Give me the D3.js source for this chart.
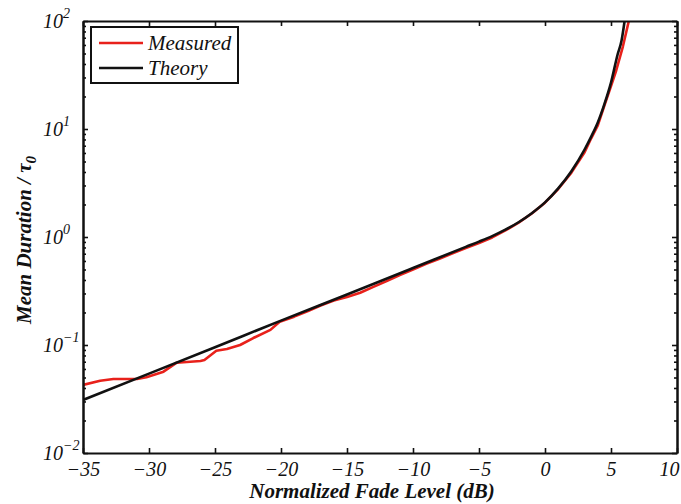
<!DOCTYPE html>
<html>
<head>
  <meta charset="utf-8">
  <script src="https://d3js.org/d3.v7.min.js"></script>
  <style>
    body { margin: 0; background: #fff; }
    text { font-family: "Liberation Serif", "Times New Roman", serif; }
  </style>
</head>
<body>
  <div id="chart"></div>
  <script>
    // values
    var theoryX = [-35, -30, -25, -20, -15, -10, -6, -5, -4, -3, -2, -1, 0, 1, 2, 3, 3.5, 4, 4.5, 5, 5.5, 5.8, 6.03];
    var theoryY = [0.031, 0.0543, 0.0954, 0.168, 0.294, 0.516, 0.81, 0.906, 1.02, 1.17, 1.37, 1.66, 2.09, 2.82, 4.07, 6.46, 8.5, 11.5, 17, 26.9, 49, 66, 100];

    var measuredX = [-35, -33.7, -32.7, -30.9, -30.2, -28.9, -27.9, -26.1, -25.8, -24.9, -24.1, -23.1, -22.1, -20.8, -20.1,
                     -19, -18, -17, -16, -15, -14, -13, -12, -11, -10, -9, -8, -7, -6, -5, -4, -3, -2, -1,
                     0, 1, 2, 3, 3.5, 4, 4.5, 5, 5.4, 5.9, 6.35];
    var measuredY = [0.0427, 0.0467, 0.0485, 0.0485, 0.0502, 0.0566, 0.0686, 0.0711, 0.0726, 0.0886, 0.0918, 0.100, 0.116, 0.138, 0.164,
                     0.183, 0.205, 0.232, 0.258, 0.278, 0.305, 0.345, 0.39, 0.445, 0.50, 0.565, 0.63, 0.705, 0.79, 0.88, 0.99, 1.15, 1.36, 1.65,
                     2.08, 2.78, 3.95, 6.1, 8.2, 10.8, 16.5, 25, 35, 58, 100];

    var xTicks = [-35, -30, -25, -20, -15, -10, -5, 0, 5, 10];
    var yTicks = [0.01, 0.1, 1, 10, 100];
    var yExponents = ["\u22122", "\u22121", "0", "1", "2"];
    var seriesNames = ["Measured", "Theory"];
    var seriesColors = ["#e8211b", "#111111"];

    var W = 681, H = 504;
    var plotL = 83, plotR = 677, plotT = 21, plotB = 453;

    var svg = d3.select("#chart").append("svg")
      .attr("width", W).attr("height", H);

    var x = d3.scaleLinear().domain([-35, 10]).range([plotL, plotR]);
    var y = d3.scaleLog().domain([0.01, 100]).range([plotB, plotT]);

    var minor = [];
    [0.01, 0.1, 1, 10].forEach(function(d) {
      for (var k = 2; k <= 9; k++) minor.push(d * k);
    });

    // curves, clipped to the plot box
    svg.append("clipPath").attr("id", "clip")
      .append("rect").attr("x", plotL).attr("y", plotT)
      .attr("width", plotR - plotL).attr("height", plotB - plotT);

    var measured = measuredX.map(function(d, i) { return [d, measuredY[i]]; });
    var theory = theoryX.map(function(d, i) { return [d, theoryY[i]]; });

    var line = d3.line()
      .x(function(d) { return x(d[0]); })
      .y(function(d) { return y(d[1]); });

    svg.append("path")
      .attr("clip-path", "url(#clip)")
      .attr("d", line(measured))
      .attr("fill", "none")
      .attr("stroke", seriesColors[0])
      .attr("stroke-width", 2.6)
      .attr("stroke-linejoin", "round");

    svg.append("path")
      .attr("clip-path", "url(#clip)")
      .attr("d", line.curve(d3.curveMonotoneX)(theory))
      .attr("fill", "none")
      .attr("stroke", seriesColors[1])
      .attr("stroke-width", 2.6);

    // axes, ticks pointing inward
    var gx = svg.append("g")
      .attr("transform", "translate(0," + plotB + ")")
      .call(d3.axisBottom(x).tickValues(xTicks).tickSize(-5).tickSizeOuter(0).tickPadding(9));

    gx.selectAll("text")
      .attr("font-size", 20)
      .attr("font-style", "italic")
      .attr("fill", "#111");
    gx.selectAll(".tick").filter(function(d) { return d === 10; })
      .select("text").attr("text-anchor", "end").attr("dx", 2);

    svg.append("g")
      .attr("transform", "translate(0," + plotT + ")")
      .call(d3.axisTop(x).tickValues(xTicks).tickSize(-5).tickSizeOuter(0).tickFormat(""));

    svg.append("g")
      .attr("transform", "translate(" + plotL + ",0)")
      .call(d3.axisLeft(y).tickValues(yTicks).tickSize(-5).tickSizeOuter(0).tickFormat(""));

    svg.append("g")
      .attr("transform", "translate(" + plotL + ",0)")
      .call(d3.axisLeft(y).tickValues(minor).tickSize(-3).tickSizeOuter(0).tickFormat(""));

    svg.append("g")
      .attr("transform", "translate(" + plotR + ",0)")
      .call(d3.axisRight(y).tickValues(yTicks).tickSize(-5).tickSizeOuter(0).tickFormat(""));

    svg.append("g")
      .attr("transform", "translate(" + plotR + ",0)")
      .call(d3.axisRight(y).tickValues(minor).tickSize(-3).tickSizeOuter(0).tickFormat(""));

    svg.selectAll(".domain").attr("stroke", "#111").attr("stroke-width", 2);
    svg.selectAll(".tick line").attr("stroke", "#111").attr("stroke-width", 1.6);

    // y labels 10^n
    yTicks.forEach(function(v, i) {
      var t = svg.append("text")
        .attr("x", 43)
        .attr("y", y(v) + 7)
        .attr("font-size", 20)
        .attr("font-style", "italic")
        .attr("fill", "#111");
      t.append("tspan").text("10");
      t.append("tspan")
        .attr("dy", -10)
        .attr("font-size", 14)
        .text(yExponents[i]);
    });

    // axis titles
    svg.append("text")
      .attr("x", 372)
      .attr("y", 498)
      .attr("text-anchor", "middle")
      .attr("font-size", 21)
      .attr("font-weight", "bold")
      .attr("font-style", "italic")
      .attr("fill", "#111")
      .text("Normalized Fade Level (dB)");

    var yt = svg.append("text")
      .attr("transform", "translate(31,240) rotate(-90)")
      .attr("text-anchor", "middle")
      .attr("font-size", 21)
      .attr("font-weight", "bold")
      .attr("font-style", "italic")
      .attr("fill", "#111");
    yt.append("tspan").text("Mean Duration / \u03c4");
    yt.append("tspan").attr("dy", 5).attr("font-size", 15).text("0");

    // legend
    var lg = svg.append("g");
    lg.append("rect")
      .attr("x", 91).attr("y", 27)
      .attr("width", 147).attr("height", 56)
      .attr("fill", "#fff")
      .attr("stroke", "#111")
      .attr("stroke-width", 2);

    seriesNames.forEach(function(name, i) {
      var ly = 43 + i * 25;
      lg.append("line")
        .attr("x1", 99).attr("x2", 143)
        .attr("y1", ly).attr("y2", ly)
        .attr("stroke", seriesColors[i])
        .attr("stroke-width", 2.6);
      lg.append("text")
        .attr("x", 148).attr("y", ly + 7)
        .attr("font-size", 21)
        .attr("font-style", "italic")
        .attr("fill", "#111")
        .text(name);
    });
  </script>
</body>
</html>
